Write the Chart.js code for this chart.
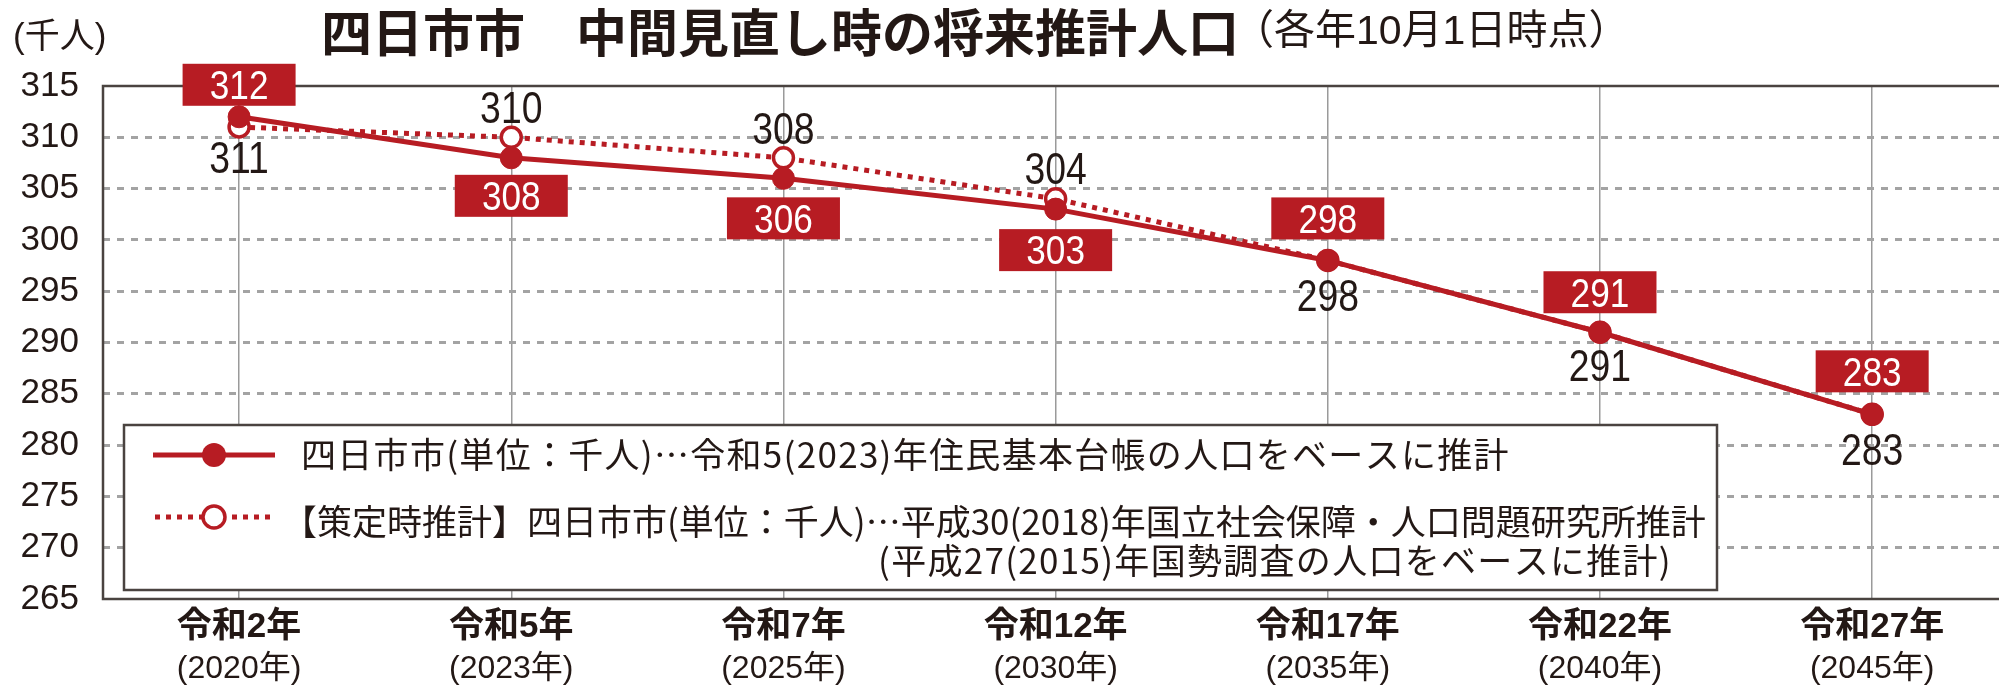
<!DOCTYPE html>
<html lang="ja">
<head>
<meta charset="utf-8">
<script src="https://cdn.jsdelivr.net/npm/chart.js@4.4.1/dist/chart.umd.min.js"></script>
<style>
  html, body { margin: 0; padding: 0; background: #ffffff; }
  #wrap { width: 1999px; height: 685px; position: relative; }
  canvas { display: block; }
</style>
</head>
<body>
<div id="wrap"><canvas id="c" width="1999" height="685"></canvas></div>
<script>
// ---------------- DATA ----------------
const eraLabels  = ['令和2年', '令和5年', '令和7年', '令和12年', '令和17年', '令和22年', '令和27年'];
const yearLabels = ['(2020年)', '(2023年)', '(2025年)', '(2030年)', '(2035年)', '(2040年)', '(2045年)'];
const currentEstimate = [312, 308, 306, 303, 298, 291, 283];   // 令和5年住民基本台帳ベース
const planEstimate    = [311, 310, 308, 304, 298, 291, 283];   // 策定時推計
const yMin = 265, yMax = 315, yStep = 5;

const titleText    = '四日市市　中間見直し時の将来推計人口';
const subtitleText = '（各年10月1日時点）';
const unitText     = '(千人)';
const legendLine1  = '四日市市(単位：千人)…令和5(2023)年住民基本台帳の人口をベースに推計';
const legendLine2  = '【策定時推計】四日市市(単位：千人)…平成30(2018)年国立社会保障・人口問題研究所推計';
const legendLine3  = '(平成27(2015)年国勢調査の人口をベースに推計)';

// ---------------- STYLE ----------------
const RED = '#b71c23';
const INK = '#231815';
const FRAME = '#4a4340';
const GRID = '#a3a3a3';
const STACK = '"Liberation Sans","Noto Sans CJK JP",sans-serif';
const CJK = '"Noto Sans CJK JP","Liberation Sans",sans-serif';

// label placement (layout only): offset of label centre from point, in px
const boxOffsets   = [-32, 38, 40, 41, -42, -40, -43];
const plainOffsets = [30, -30, -30, -31, 34, 33, 35];

function digitText(ctx, text, x, cy, size, sx, color) {
  ctx.save();
  ctx.translate(x, cy + 0.358 * size);
  ctx.scale(sx, 1);
  ctx.font = size + 'px "Liberation Sans", sans-serif';
  ctx.fillStyle = color;
  ctx.textAlign = 'center';
  ctx.textBaseline = 'alphabetic';
  ctx.fillText(text, 0, 0);
  ctx.restore();
}
function plainText(ctx, text, x, y, font, color, align, spacing) {
  ctx.save();
  ctx.font = font;
  if (spacing) ctx.letterSpacing = spacing;
  ctx.fillStyle = color;
  ctx.textAlign = align || 'left';
  ctx.textBaseline = 'middle';
  ctx.fillText(text, x, y);
  ctx.restore();
}

const framePlugin = {
  id: 'frame',
  beforeDatasetsDraw(chart) {
    const ctx = chart.ctx, a = chart.chartArea;
    // legend box (white, covers grid)
    const lx = 124, ly = 425, lw = 1717 - 124, lh = 590 - 425;
    ctx.save();
    ctx.fillStyle = '#ffffff';
    ctx.fillRect(lx, ly, lw, lh);
    ctx.strokeStyle = FRAME;
    ctx.lineWidth = 2.5;
    ctx.strokeRect(lx, ly, lw, lh);
    // plot frame: top, left, bottom
    ctx.beginPath();
    ctx.moveTo(a.right, a.top); ctx.lineTo(a.left, a.top);
    ctx.lineTo(a.left, a.bottom); ctx.lineTo(a.right, a.bottom);
    ctx.lineWidth = 2.5;
    ctx.strokeStyle = FRAME;
    ctx.stroke();
    // legend symbols
    ctx.lineCap = 'butt';
    ctx.beginPath();
    ctx.moveTo(153, 455); ctx.lineTo(275, 455);
    ctx.strokeStyle = RED; ctx.lineWidth = 5; ctx.stroke();
    ctx.beginPath(); ctx.arc(214, 455, 12, 0, Math.PI * 2);
    ctx.fillStyle = RED; ctx.fill();
    ctx.setLineDash([5, 6]);
    ctx.beginPath();
    ctx.moveTo(155, 517); ctx.lineTo(276, 517);
    ctx.lineWidth = 5; ctx.stroke();
    ctx.setLineDash([]);
    ctx.beginPath(); ctx.arc(214, 517, 11, 0, Math.PI * 2);
    ctx.fillStyle = '#ffffff'; ctx.fill();
    ctx.lineWidth = 3.5; ctx.strokeStyle = RED; ctx.stroke();
    ctx.restore();
    // legend texts
    const lf = '35px ' + CJK;
    plainText(ctx, legendLine1, 301, 455, lf, INK, 'left', '1.3px');
    plainText(ctx, legendLine2, 282, 522, lf, INK);
    plainText(ctx, legendLine3, 878, 561, lf, INK, 'left', '1.3px');
  },
  afterDatasetsDraw(chart) {
    const ctx = chart.ctx;
    const m0 = chart.getDatasetMeta(0), m1 = chart.getDatasetMeta(1);
    // plan estimate labels (black)
    m1.data.forEach((pt, i) => {
      digitText(ctx, String(planEstimate[i]), pt.x, pt.y + plainOffsets[i], 45, 0.83, INK);
    });
    // current estimate labels (red boxes)
    m0.data.forEach((pt, i) => {
      const cy = pt.y + boxOffsets[i];
      ctx.save();
      ctx.fillStyle = RED;
      ctx.fillRect(pt.x - 56.5, cy - 21, 113, 42);
      ctx.restore();
      digitText(ctx, String(currentEstimate[i]), pt.x, cy, 40, 0.88, '#ffffff');
    });
    // category labels under the axis, using the x scale
    const xs = chart.scales.x;
    eraLabels.forEach((t, i) => {
      const x = xs.getPixelForValue(i);
      plainText(ctx, t, x, 627, 'bold 35px ' + STACK, INK, 'center');
      plainText(ctx, yearLabels[i], x, 669, '32px ' + STACK, INK, 'center');
    });
  },
  afterDraw(chart) {
    const ctx = chart.ctx;
    plainText(ctx, titleText, 321, 33, 'bold 51px ' + CJK, INK);
    plainText(ctx, subtitleText, 1233, 33, '41px ' + STACK, INK);
    plainText(ctx, unitText, 13, 38, '35px ' + STACK, INK);
  }
};

new Chart(document.getElementById('c'), {
  type: 'line',
  data: {
    datasets: [
      {
        label: '四日市市（単位：千人）',
        data: currentEstimate.map((v, i) => ({ x: i, y: v })),
        borderColor: RED,
        backgroundColor: RED,
        borderWidth: 5,
        pointRadius: 11,
        pointBackgroundColor: RED,
        pointBorderColor: RED,
        pointBorderWidth: 1,
        tension: 0
      },
      {
        label: '【策定時推計】四日市市（単位：千人）',
        data: planEstimate.map((v, i) => ({ x: i, y: v })),
        borderColor: RED,
        backgroundColor: '#ffffff',
        borderWidth: 5,
        borderDash: [5, 6],
        pointRadius: 10,
        pointBackgroundColor: '#ffffff',
        pointBorderColor: RED,
        pointBorderWidth: 3.5,
        tension: 0
      }
    ]
  },
  options: {
    responsive: false,
    animation: false,
    devicePixelRatio: 1,
    layout: { autoPadding: false, padding: { top: 86, left: 0, right: 0, bottom: 0 } },
    plugins: { legend: { display: false }, tooltip: { enabled: false }, title: { display: false } },
    scales: {
      x: {
        type: 'linear',
        min: -0.5,
        max: 6.466,
        afterBuildTicks(scale) { scale.ticks = eraLabels.map((_, i) => ({ value: i })); },
        afterFit(scale) { scale.height = 86; },
        ticks: { display: false },
        grid: { color: '#9a9a9a', lineWidth: 1.5, drawTicks: false },
        border: { display: false }
      },
      y: {
        min: yMin,
        max: yMax,
        afterFit(scale) { scale.width = 103; },
        ticks: {
          stepSize: yStep,
          padding: 24,
          color: INK,
          font: { family: 'Liberation Sans', size: 35 }
        },
        grid: {
          drawTicks: false,
          lineWidth: 3,
          color: (c) => (c.tick && (c.tick.value === yMin || c.tick.value === yMax)) ? 'rgba(0,0,0,0)' : GRID
        },
        border: { display: false, dash: [7, 7] }
      }
    }
  },
  plugins: [framePlugin]
});
</script>
</body>
</html>
